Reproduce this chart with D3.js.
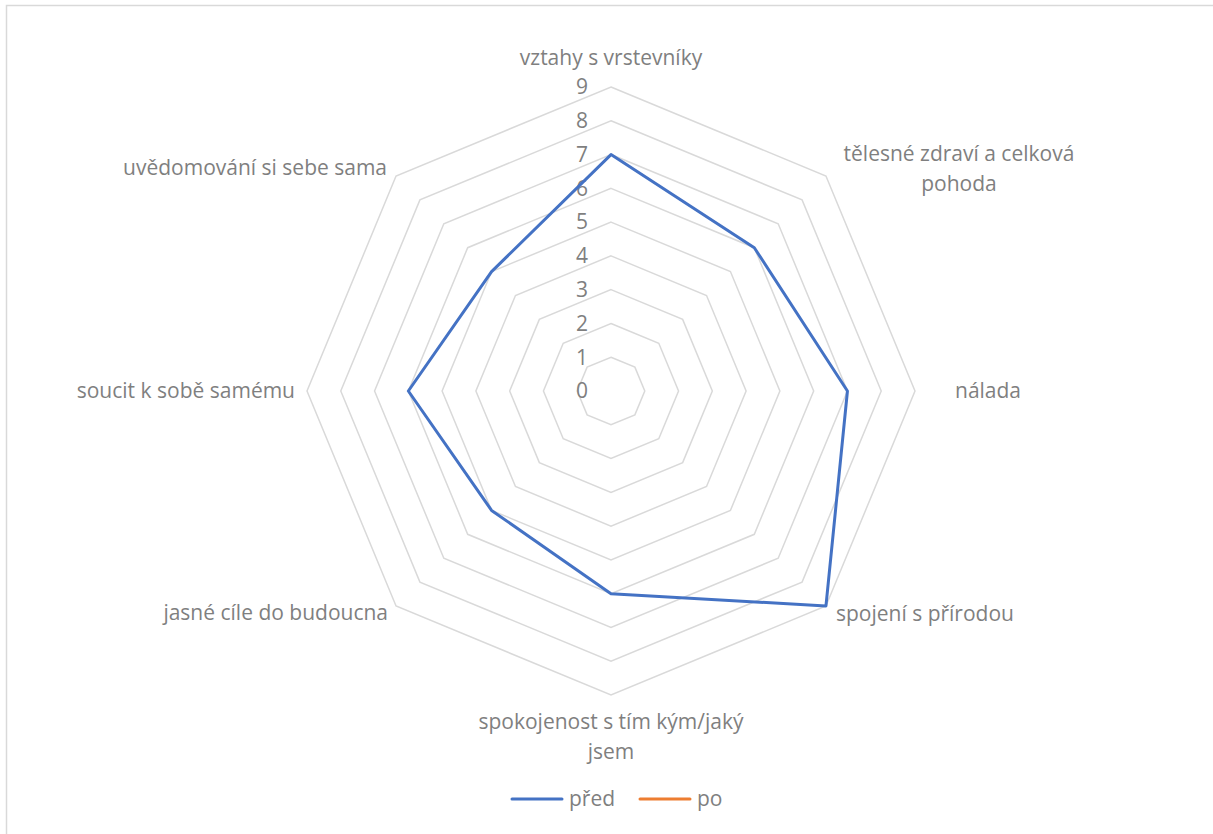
<!DOCTYPE html>
<html><head><meta charset="utf-8">
<script src="https://cdn.jsdelivr.net/npm/d3@7"></script>
<style>body{margin:0;background:#fff}svg{display:block}</style>
</head><body>
<svg id="c" width="1213" height="834"></svg>
<script>
const categories = ["vztahy s vrstevníky","tělesné zdraví a celková pohoda","nálada","spojení s přírodou","spokojenost s tím kým/jaký jsem","jasné cíle do budoucna","soucit k sobě samému","uvědomování si sebe sama"];
const labelLines = [["vztahy s vrstevníky"],["tělesné zdraví a celková","pohoda"],["nálada"],["spojení s přírodou"],["spokojenost s tím kým/jaký","jsem"],["jasné cíle do budoucna"],["soucit k sobě samému"],["uvědomování si sebe sama"]];
const seriesNames = ["před","po"];
const pred = [7,6,7,9,6,5,6,5];
const po = [];
const ticks = [0,1,2,3,4,5,6,7,8,9];

const svg = d3.select("#c");
const font = "'Open Sans', 'Noto Sans', sans-serif";
const fs = 21;
const textColor = "#7f7f7f";
const cx = 611, cy = 391, R = 304;
const r = d3.scaleLinear().domain([0,9]).range([0,R]);
const ang = d3.scalePoint().domain(d3.range(categories.length + 1)).range([0, 2*Math.PI]);
const pt = (i, v) => [cx + r(v)*Math.sin(ang(i)), cy - r(v)*Math.cos(ang(i))];

svg.append("rect").attr("x",6.5).attr("y",5.5).attr("width",1230).attr("height",840)
  .attr("fill","none").attr("stroke","#d9d9d9").attr("stroke-width",1.5);

// grid rings
const ring = d3.line();
ticks.forEach(t => {
  const pts = categories.map((c,i) => pt(i,t));
  svg.append("path").attr("d", ring(pts) + "Z").attr("fill","none")
    .attr("stroke","#d9d9d9").attr("stroke-width",1.5);
});

// tick labels
svg.selectAll(".tick").data(ticks).join("text")
  .attr("x", cx - 23).attr("y", d => cy - r(d)).attr("dy","0.35em")
  .attr("text-anchor","end").attr("font-family",font).attr("font-size",fs)
  .attr("fill",textColor).text(d => d);

// category labels
const lab = [
  {dx:0, dy:-29, a:"middle"},
  {dx:133, dy:-22, a:"middle"},
  {dx:40, dy:0, a:"start"},
  {dx:10, dy:8, a:"start"},
  {dx:0, dy:27, a:"middle"},
  {dx:-8, dy:7, a:"end"},
  {dx:-12, dy:0, a:"end"},
  {dx:-9, dy:-8, a:"end"}
];
const lineGap = 30;
categories.forEach((c,i) => {
  const [x,y] = pt(i,9);
  const L = lab[i];
  const t = svg.append("text").attr("font-family",font).attr("font-size",fs)
    .attr("fill",textColor).attr("text-anchor",L.a);
  labelLines[i].forEach((s,k) => {
    t.append("tspan").attr("x", x + L.dx).attr("y", y + L.dy + k*lineGap).attr("dy","0.35em").text(s);
  });
});

// series
const line = d3.line();
svg.append("path").attr("d", line(pred.map((v,i)=>pt(i,v))) + "Z")
  .attr("fill","none").attr("stroke","#4472c4").attr("stroke-width",3).attr("stroke-linejoin","round");
if (po.length) svg.append("path").attr("d", line(po.map((v,i)=>pt(i,v))) + "Z")
  .attr("fill","none").attr("stroke","#ed7d31").attr("stroke-width",3);

// legend
const colors = ["#4472c4","#ed7d31"];
const lx = [512, 640];
seriesNames.forEach((n,i) => {
  svg.append("line").attr("x1",lx[i]).attr("x2",lx[i]+50).attr("y1",799).attr("y2",799)
    .attr("stroke",colors[i]).attr("stroke-width",3).attr("stroke-linecap","round");
  svg.append("text").attr("x",lx[i]+57).attr("y",799).attr("dy","0.35em")
    .attr("font-family",font).attr("font-size",fs).attr("fill",textColor).text(n);
});
</script>
</body></html>
